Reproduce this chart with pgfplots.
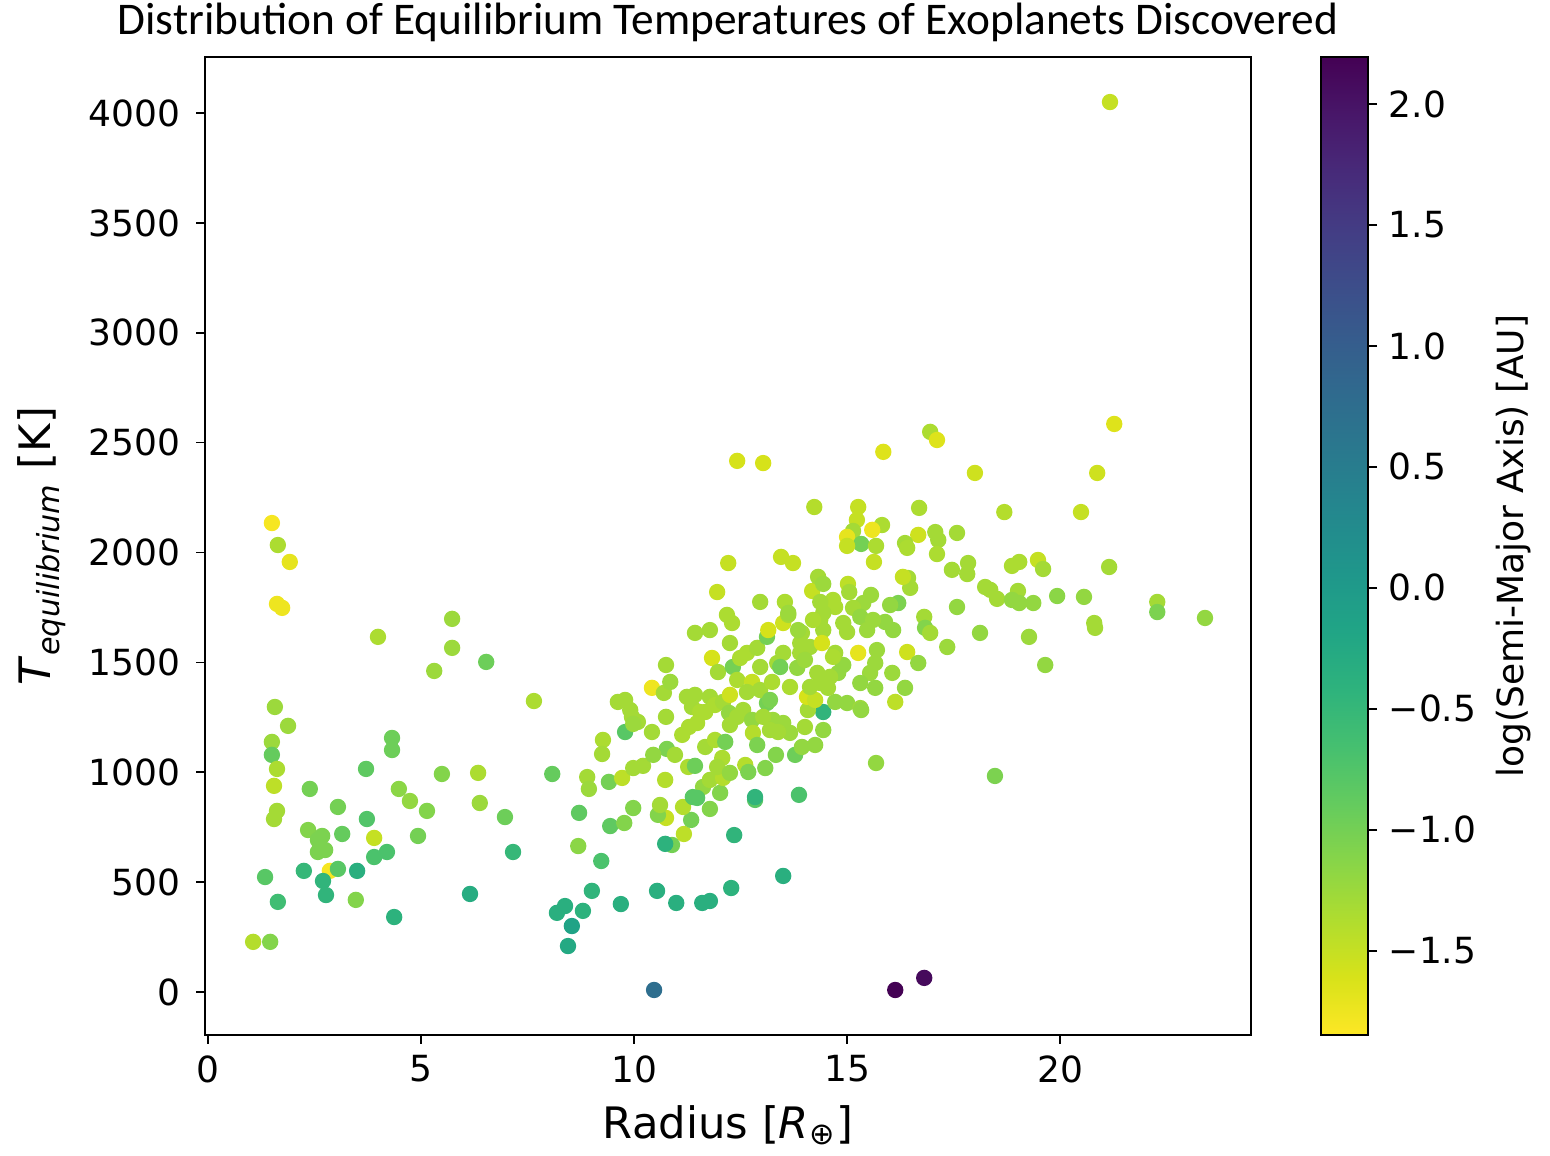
\documentclass[border=0pt]{standalone}
\usepackage{fontspec}
\setmainfont{DejaVu Sans}
\newfontfamily\titlefont{Carlito}
\usepackage{pgfplots}
\usepackage{pgfplotstable}
\pgfplotsset{compat=1.18}
% viridis running from yellow (low) to purple (high)
\pgfplotsset{colormap={rviridis}{indices of colormap={\pgfplotscolormaplastindexof{viridis},...,0 of viridis}}}

% radius [R_earth], T_eq [K], log10(a / AU)
\pgfplotstableread{
x y c
1.06 228 -1.4
1.46 228 -1.1
1.34 523 -0.8
1.64 410 -0.6
1.50 2134 -1.8
1.64 2034 -1.35
1.92 1957 -1.7
1.62 1766 -1.75
1.74 1748 -1.75
3.99 1616 -1.35
5.73 1698 -1.25
5.73 1566 -1.25
5.31 1461 -1.25
6.53 1502 -0.95
7.65 1324 -1.35
1.57 1297 -1.25
1.88 1211 -1.25
1.50 1138 -1.25
1.50 1079 -0.9
4.32 1156 -0.95
4.32 1101 -0.95
1.62 1015 -1.35
1.55 938 -1.45
1.62 824 -1.3
1.55 787 -1.3
2.39 924 -1.0
3.71 1015 -0.85
3.05 842 -1.0
3.73 787 -0.75
4.48 924 -1.15
4.74 869 -1.2
5.14 824 -1.1
5.49 992 -1.1
6.34 997 -1.35
6.38 860 -1.25
6.97 796 -0.95
8.08 992 -0.9
2.35 737 -1.1
2.68 710 -1.05
2.58 692 -1.05
2.58 637 -1.05
2.75 646 -1.05
3.15 719 -0.9
3.90 701 -1.5
4.93 710 -1.0
4.20 637 -0.7
3.90 614 -0.7
2.25 551 -0.5
2.86 551 -1.8
3.05 560 -0.8
3.50 551 -0.35
2.70 505 -0.45
2.77 441 -0.45
3.47 419 -1.1
4.37 341 -0.4
6.15 446 -0.3
7.16 637 -0.5
8.71 815 -0.85
9.44 755 -0.85
9.77 769 -1.1
9.98 837 -1.1
8.69 664 -1.15
9.23 596 -0.7
9.01 460 -0.45
8.38 391 -0.35
8.19 360 -0.35
8.80 369 -0.4
8.54 300 -0.15
8.45 209 -0.25
9.69 400 -0.35
10.54 460 -0.35
10.99 405 -0.35
11.60 405 -0.35
11.78 414 -0.35
12.28 473 -0.4
13.50 528 -0.35
10.47 9 0.75
12.35 714 -0.45
10.89 669 -1.0
10.73 674 -0.4
11.17 719 -1.45
10.75 792 -1.5
10.56 806 -1.1
11.34 783 -1.0
11.78 833 -1.1
11.15 842 -1.4
10.61 851 -1.3
12.84 874 -0.8
13.87 897 -0.7
16.13 9 2.19
16.81 64 2.1
9.79 1183 -0.8
9.27 1147 -1.35
9.25 1083 -1.3
8.90 978 -1.3
8.94 924 -1.25
9.41 956 -1.0
9.72 974 -1.45
9.98 1019 -1.3
10.21 1029 -1.3
9.62 1320 -1.3
9.79 1329 -1.3
9.91 1283 -1.3
9.95 1252 -1.3
10.09 1229 -1.3
9.98 1220 -1.25
10.42 1384 -1.75
10.70 1361 -1.3
10.75 1488 -1.3
10.85 1411 -1.25
10.75 1252 -1.3
10.42 1183 -1.3
10.77 1106 -1.05
10.45 1079 -1.2
10.96 1079 -1.3
10.73 965 -1.4
11.27 1024 -1.35
11.43 1029 -0.95
11.62 933 -1.2
11.38 887 -0.8
11.48 883 -0.8
12.02 906 -1.1
11.78 965 -1.3
12.09 974 -1.4
11.67 1115 -1.3
11.90 1147 -1.35
12.07 1065 -1.35
12.14 1138 -1.0
11.13 1170 -1.35
11.29 1206 -1.35
11.48 1224 -1.35
11.24 1343 -1.3
11.36 1297 -1.3
11.55 1274 -1.35
11.67 1274 -1.35
11.43 1352 -1.3
11.78 1343 -1.3
11.90 1306 -1.35
12.09 1320 -1.3
12.25 1352 -1.55
12.23 1270 -1.2
12.25 1215 -1.3
12.42 1252 -1.3
12.56 1283 -1.3
12.77 1238 -1.2
12.79 1179 -1.4
12.89 1124 -1.05
12.61 1033 -1.4
12.68 1001 -1.05
13.08 1019 -1.1
13.33 1079 -1.1
12.84 887 -0.45
13.78 1079 -0.95
13.94 1115 -1.2
14.25 1124 -1.2
14.44 1192 -1.2
14.44 1274 -0.45
14.01 1206 -1.3
14.08 1283 -1.3
13.12 1315 -1.0
13.26 1238 -1.25
13.50 1224 -1.25
13.66 1179 -1.25
13.38 1183 -1.3
13.19 1192 -1.3
13.03 1252 -1.3
14.06 1343 -1.6
14.25 1329 -1.5
11.83 1520 -1.6
11.97 1456 -1.3
12.32 1479 -1.0
12.49 1520 -1.35
12.65 1543 -1.35
12.25 1588 -1.3
12.18 1716 -1.35
12.30 1679 -1.35
11.43 1634 -1.3
11.78 1647 -1.3
12.42 1420 -1.35
12.77 1411 -1.5
12.65 1365 -1.3
12.96 1374 -1.3
13.19 1329 -1.05
12.89 1566 -1.3
13.12 1616 -1.0
13.15 1647 -1.6
12.96 1479 -1.3
13.36 1497 -1.3
13.50 1543 -1.3
13.50 1679 -1.55
13.62 1716 -1.3
13.54 1775 -1.35
12.96 1775 -1.3
13.83 1475 -1.2
13.90 1588 -1.3
14.13 1570 -1.3
13.94 1634 -1.3
14.37 1693 -1.3
14.44 1647 -1.3
14.41 1588 -1.6
14.30 1452 -1.3
14.37 1406 -1.3
14.13 1388 -1.3
13.66 1388 -1.35
13.24 1411 -1.35
12.42 2417 -1.6
13.03 2407 -1.6
15.85 2458 -1.65
16.95 2549 -1.35
17.11 2512 -1.65
18.00 2362 -1.55
14.23 2207 -1.4
15.26 2207 -1.5
15.23 2148 -1.5
15.82 2125 -1.35
15.14 2098 -1.3
15.59 2103 -1.75
15.00 2071 -1.7
15.33 2039 -1.0
15.00 2030 -1.5
15.68 2030 -1.35
15.63 1957 -1.5
16.69 2203 -1.35
16.67 2080 -1.55
16.36 2043 -1.3
16.41 2021 -1.35
17.07 2093 -1.3
17.14 2057 -1.3
17.58 2089 -1.3
17.11 1993 -1.35
17.46 1921 -1.3
17.84 1952 -1.3
17.82 1902 -1.3
16.43 1884 -1.3
16.48 1839 -1.3
16.31 1889 -1.5
17.58 1752 -1.2
18.12 1634 -1.2
16.81 1707 -1.3
16.83 1657 -1.1
16.95 1634 -1.3
17.35 1570 -1.25
12.21 1952 -1.5
13.45 1980 -1.5
13.73 1952 -1.5
11.95 1820 -1.5
14.18 1825 -1.5
14.32 1889 -1.3
14.44 1857 -1.25
15.02 1857 -1.45
15.05 1820 -1.3
15.56 1807 -1.25
15.38 1770 -1.25
15.14 1748 -1.3
15.31 1707 -1.2
14.67 1784 -1.35
14.72 1752 -1.35
14.37 1775 -1.3
14.44 1725 -1.3
16.20 1770 -1.05
16.01 1761 -1.2
15.89 1684 -1.2
16.08 1647 -1.2
15.61 1693 -1.25
13.62 1725 -1.25
13.85 1647 -1.25
14.20 1693 -1.35
14.91 1679 -1.3
15.00 1638 -1.3
15.47 1647 -1.25
16.41 1547 -1.55
16.67 1497 -1.2
16.06 1452 -1.25
16.13 1320 -1.45
16.36 1384 -1.2
15.26 1543 -1.7
15.70 1556 -1.25
15.66 1497 -1.25
15.54 1452 -1.25
15.31 1406 -1.2
15.66 1384 -1.2
14.91 1488 -1.2
14.72 1543 -1.3
14.79 1452 -1.2
15.00 1315 -1.2
14.72 1320 -1.2
15.31 1292 -1.25
14.55 1384 -1.3
13.90 1543 -1.3
13.43 1479 -1.0
15.33 1283 -1.2
15.68 1042 -1.2
18.47 983 -1.05
19.27 1616 -1.25
14.01 1511 -1.25
14.60 1434 -1.3
14.67 1525 -1.35
11.95 1024 -1.3
12.25 997 -1.2
21.27 2585 -1.65
20.87 2362 -1.55
18.69 2184 -1.4
20.49 2184 -1.5
18.24 1843 -1.3
18.36 1830 -1.3
18.52 1789 -1.3
18.87 1939 -1.35
19.04 1957 -1.35
19.48 1966 -1.5
19.60 1925 -1.3
19.01 1825 -1.3
18.87 1784 -1.2
19.04 1770 -1.2
19.37 1770 -1.2
19.93 1802 -1.15
20.56 1798 -1.2
21.15 1934 -1.3
20.80 1679 -1.3
20.82 1657 -1.3
19.65 1488 -1.2
22.28 1775 -1.3
22.28 1729 -1.05
23.40 1702 -1.2
21.17 4050 -1.5
}\planets

\begin{document}
\begin{tikzpicture}
\useasboundingbox (-61.5pt,-36pt) rectangle (403.5pt,310.5pt);
\begin{axis}[
  width=313.8pt, height=293.4pt, scale only axis,
  xmin=-0.07, xmax=24.48, ymin=-196, ymax=4255,
  xtick={0,5,10,15,20}, ytick={0,500,...,4000},
  /pgf/number format/1000 sep={},
  /pgf/number format/assume math mode=true,
  tick align=outside, xtick pos=bottom, ytick pos=left,
  major tick length=2.6pt,
  tick style={black, line width=0.5pt},
  axis line style={line width=0.6pt},
  tick label style={font=\fontsize{10.8}{12}\selectfont},
  yticklabel style={xshift=-1.2pt},
  label style={font=\fontsize{13}{15}\selectfont},
  xlabel={Radius [\textit{R}\textsubscript{⊕}]},
  ylabel={\textit{T}\textsubscript{\textit{equilibrium}} [K]},
  title={Distribution of Equilibrium Temperatures of Exoplanets Discovered},
  title style={font=\titlefont\fontsize{13.6}{15}\selectfont, yshift=-5pt},
  colormap name=rviridis,
  point meta=explicit,
  point meta min=-1.848, point meta max=2.194,
  colorbar,
  colorbar style={
    at={(parent axis.north east)}, anchor=north west, xshift=12.6pt,
    width=14.1pt,
    ytick={-1.5,-1.0,-0.5,0.0,0.5,1.0,1.5,2.0},
    yticklabels={−1.5,−1.0,−0.5,0.0,0.5,1.0,1.5,2.0},
    tick align=outside, ytick pos=right, yticklabel pos=right,
    major tick length=2.6pt,
    tick style={black, line width=0.5pt},
    axis line style={line width=0.6pt},
    tick label style={font=\fontsize{10.8}{12}\selectfont},
    ylabel={log(Semi-Major Axis) [AU]},
    ylabel style={font=\fontsize{10.8}{12}\selectfont,
      at={(axis description cs:4.09,0.5)}, anchor=center},
  },
]
\addplot[scatter, only marks, mark=*, mark size=2.25pt,
  scatter/use mapped color={draw=mapped color, fill=mapped color}]
  table[x=x, y=y, meta=c] {\planets};
\end{axis}
\end{tikzpicture}
\end{document}
